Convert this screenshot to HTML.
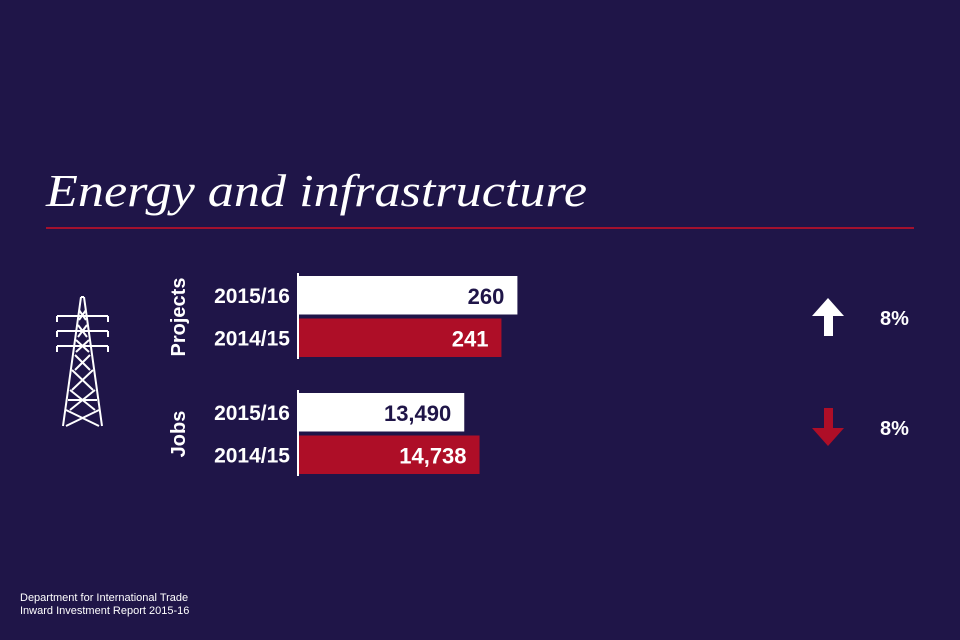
<!DOCTYPE html>
<html><head><meta charset="utf-8"><style>
body{margin:0;background:#1f1548;font-family:"Liberation Sans",sans-serif;}
#c{position:relative;width:960px;height:640px;background:#1f1548;overflow:hidden;font-family:"Liberation Sans",sans-serif;}
</style></head><body>
<div id="c">
<svg width="960" height="640">
<text x="46" y="206" font-family="Liberation Serif,serif" font-style="italic" font-size="46" textLength="541" lengthAdjust="spacingAndGlyphs" fill="#fff">Energy and infrastructure</text>
<rect x="46" y="227" width="868" height="2" fill="#a3112e"/>
<g id="pylon" stroke="#fff" stroke-width="2" fill="none">
<path d="M81,297 L63,426 M84,297 L102,426 M81,297 L84,297"/>
<path d="M57,316 H108 M57,331 H108 M57,346 H108 M57,316 v6 M108,316 v6 M57,331 v6 M108,331 v6 M57,346 v6 M108,346 v6"/>
<path d="M79,310 L86,320 M86,310 L79,320 M78,325 L87,337 M87,325 L78,337 M76,340 L89,352 M89,340 L76,352 M75,355 L90,370 M90,355 L75,370 M72,370 L93,390 M93,370 L72,390 M70,390 L95,410 M95,390 L70,410 M66,410 L99,426 M99,410 L66,426 M68,400 H97"/>
</g>
<g id="bars"></g>
</svg>
<div style="position:absolute;left:20px;top:592px;color:#fff;font-size:11px;line-height:13px;font-family:'Liberation Sans',sans-serif">Department for International Trade<br>Inward Investment Report 2015-16</div>
</div>
<script>
const groups=["Projects","Jobs"];
const years=["2015/16","2014/15"];
const projectValues=[260,241];
const jobValues=[13490,14738];
const valueLabels=[["260","241"],["13,490","14,738"]];
const changes=["8%","8%"];
const dirs=["up","down"];
const ns="http://www.w3.org/2000/svg";
const g=document.getElementById('bars');
function mk(t,a){const e=document.createElementNS(ns,t);for(const k in a)e.setAttribute(k,a[k]);g.appendChild(e);return e;}
const x0=299;
const scales=[v=>v*0.84,v=>v*0.01225];
const series=[projectValues,jobValues];
const groupTop=[276,393];
series.forEach((vals,gi)=>{
  const top=groupTop[gi];
  const ax=mk('rect',{x:297,y:top-3,width:2,height:86,fill:'#fff'});
  
  
  const gl=mk('text',{transform:`translate(185,${top+41}) rotate(-90)`,'text-anchor':'middle','font-size':20,'font-weight':'bold',fill:'#fff'});
  gl.textContent=groups[gi];
  
  
  vals.forEach((v,i)=>{
    const y=top+i*42.5;const w=scales[gi](v);
    const r=mk('rect',{x:x0,y:y,width:w,height:38.5,fill:i==0?'#fff':'#ae0e27'});
    
    
    const yl=mk('text',{x:290,y:y+27,'text-anchor':'end','font-size':21,'font-weight':'bold',fill:'#fff'});
    yl.textContent=years[i];
    
    
    const vl=mk('text',{x:x0+w-13,y:y+28,'text-anchor':'end','font-size':22,'font-weight':'bold',fill:i==0?'#1f1548':'#fff'});
    vl.textContent=valueLabels[gi][i];
    
    
  });
  const cy=[317,427][gi];
  const up=dirs[gi]=='up';
  const p=up?`M828,${cy-19} L844,${cy-1} L833,${cy-1} L833,${cy+19} L824,${cy+19} L824,${cy-1} L812,${cy-1}Z`
            :`M824,${cy-19} L833,${cy-19} L833,${cy+1} L844,${cy+1} L828,${cy+19} L812,${cy+1} L824,${cy+1}Z`;
  const ar=mk('path',{d:p,fill:up?'#fff':'#ae0e27'});
  
  
  const ct=mk('text',{x:880,y:cy+8,'font-size':20,'font-weight':'bold',fill:'#fff'});
  ct.textContent=changes[gi];
  
  
});
</script>
</body></html>
